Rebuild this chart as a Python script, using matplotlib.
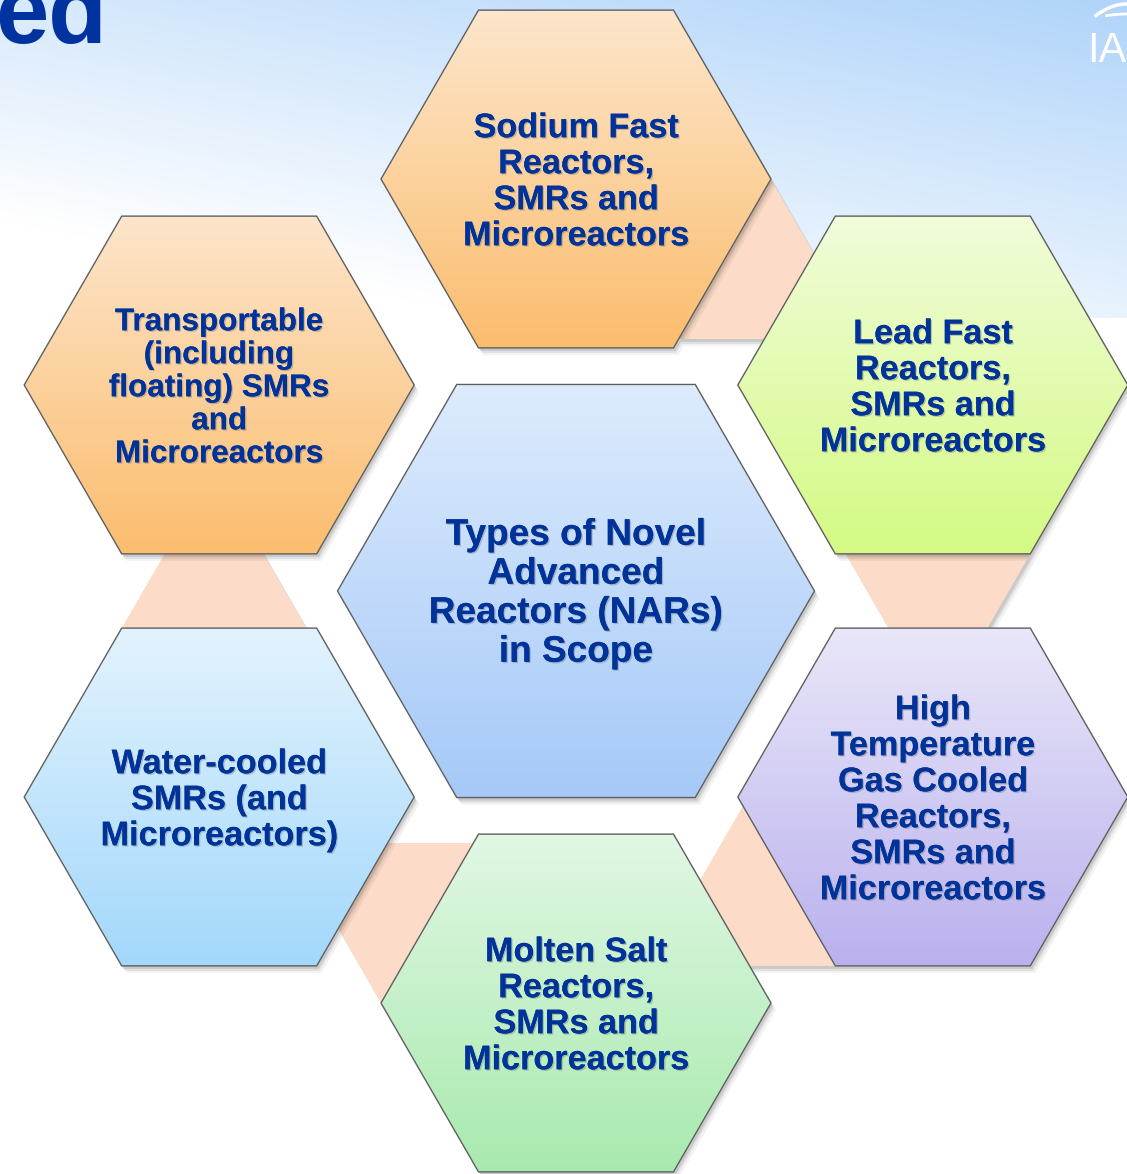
import numpy as np
import matplotlib.pyplot as plt
from matplotlib.patches import Polygon
from matplotlib.colors import to_rgb
import matplotlib.patheffects as pe

W, H = 1127, 1174

# outer hexagons, clockwise starting at the top one
labels = [
    ["Sodium Fast", "Reactors,", "SMRs and", "Microreactors"],
    ["Lead Fast", "Reactors,", "SMRs and", "Microreactors"],
    ["High", "Temperature", "Gas Cooled", "Reactors,", "SMRs and", "Microreactors"],
    ["Molten Salt", "Reactors,", "SMRs and", "Microreactors"],
    ["Water-cooled", "SMRs (and", "Microreactors)"],
    ["Transportable", "(including", "floating) SMRs", "and", "Microreactors"],
]
center_label = ["Types of Novel", "Advanced", "Reactors (NARs)", "in Scope"]

top_colors = ["#FDE6CC", "#F1FCDA", "#E9E7F9", "#E1F7E4", "#E3F3FE", "#FDE5CB"]
bottom_colors = ["#FBBD6E", "#D4FA84", "#BAB1EE", "#A8EAAE", "#A3D8FB", "#FBBD6E"]
center_colors = ("#DDEBFD", "#A5C9F8")
link_color = "#FCDCC8"
text_color = "#003399"

slot_angles = [90, 30, -30, -90, -150, 150]
link_angles = [60, 0, -60, -120, 180]   # no link between transportable and sodium

cx, cy = 576, 591
ring = 412
r_out = 195
r_mid = 238.5


def hex_pts(x, y, r):
    a = np.radians(np.arange(0, 360, 60))
    return np.column_stack([x + r * np.cos(a), y - r * np.sin(a)])


def rotate(pts, deg):
    t = np.radians(deg)
    dx = pts[:, 0] - cx
    dy = cy - pts[:, 1]
    return np.column_stack([cx + dx * np.cos(t) - dy * np.sin(t),
                            cy - (dx * np.sin(t) + dy * np.cos(t))])


def shadow(ax, pts, z):
    for off, a in [((2, 3), 0.10), ((3, 5), 0.07), ((5, 7), 0.05)]:
        ax.add_patch(Polygon(pts + np.array(off), closed=True, facecolor="black",
                             alpha=a, lw=0, zorder=z - 0.05))


def grad_poly(ax, pts, c_top, c_bot, z):
    x0, x1 = pts[:, 0].min(), pts[:, 0].max()
    y0, y1 = pts[:, 1].min(), pts[:, 1].max()
    t = np.linspace(0, 1, 256)[:, None]
    img = ((1 - t) * np.array(to_rgb(c_top)) + t * np.array(to_rgb(c_bot)))[:, None, :]
    shadow(ax, pts, z)
    im = ax.imshow(img, extent=(x0, x1, y1, y0), origin="upper", aspect="auto",
                   interpolation="bilinear", zorder=z)
    patch = Polygon(pts, closed=True, facecolor="none", edgecolor="#5f5f5f", lw=1.0, zorder=z + 0.1)
    ax.add_patch(patch)
    im.set_clip_path(patch)


def text_block(ax, lines, x, yc, em_px, gap):
    n = len(lines)
    for i, s in enumerate(lines):
        ym = yc + (i - (n - 1) / 2) * gap
        ax.text(x, ym + 0.716 * em_px / 2, s, ha="center", va="baseline",
                fontsize=em_px * 0.72, fontweight="bold", color=text_color,
                family="Liberation Sans", zorder=20,
                path_effects=[pe.withSimplePatchShadow(offset=(1.0, -1.0), shadow_rgbFace="#555555", alpha=0.3),
                              pe.Normal()])


fig = plt.figure(figsize=(W / 100, H / 100), dpi=100)
ax = fig.add_axes([0, 0, 1, 1])

# background wash in the top band
bh = 318
u = np.linspace(0, 1, 300)[None, :]
v = np.linspace(0, 1, 120)[:, None]
s = np.clip(0.5 + 0.5 * u - 0.72 * v, 0, 1)[..., None]
bg = (1 - s) * np.ones(3) + s * np.array([176, 212, 250]) / 255
ax.imshow(bg, extent=(0, W, bh, 0), origin="upper", aspect="auto", interpolation="bilinear", zorder=0)

# title fragment and logo fragment (both cut by the frame, as in the slide)
ax.text(107, 43, "ed", ha="right", va="baseline", fontsize=69, fontweight="bold",
        color="#0033A0", family="Liberation Sans", zorder=1)
ax.text(1087, 62, "IAEA", ha="left", va="baseline", fontsize=30, color="white",
        family="Liberation Sans", zorder=1)
xs = np.linspace(1096, 1127, 30)
ax.plot(xs, 4 + 0.012 * (xs - 1127) ** 2, color="white", lw=2.5, zorder=1)
ax.plot(xs[10:], 14 + 0.004 * (xs[10:] - 1127) ** 2, color="white", lw=2, zorder=1)

# connecting triangles (defined for the slot at 60 deg, rotated to the others)
apex = np.array([cx + r_out, cy - ring])
h_tri = 160
tri = np.array([apex, apex + [-h_tri / np.sqrt(3), h_tri], apex + [h_tri / np.sqrt(3), h_tri]])
for ang in link_angles:
    pts = rotate(tri, ang - 60)
    shadow(ax, pts, 2)
    ax.add_patch(Polygon(pts, closed=True, facecolor=link_color, lw=0, zorder=2))

# outer hexagons
for i, ang in enumerate(slot_angles):
    hx = cx + ring * np.cos(np.radians(ang))
    hy = cy - ring * np.sin(np.radians(ang))
    grad_poly(ax, hex_pts(hx, hy, r_out), top_colors[i], bottom_colors[i], 5)
    if i == 5:
        text_block(ax, labels[i], hx, hy, 31.5, 33)
    else:
        text_block(ax, labels[i], hx, hy, 34.2, 36)

# centre hexagon
grad_poly(ax, hex_pts(cx, cy, r_mid), center_colors[0], center_colors[1], 8)
text_block(ax, center_label, cx, cy - 1, 37, 39)

ax.set_xlim(0, W)
ax.set_ylim(H, 0)
ax.axis("off")
fig.savefig("out.png", dpi=100, facecolor="white")
